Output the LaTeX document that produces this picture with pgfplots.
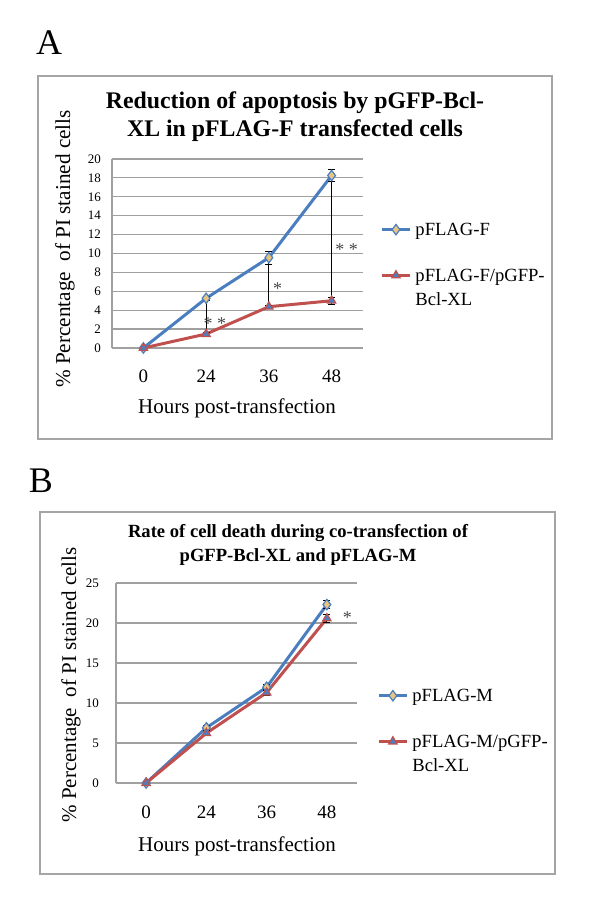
\documentclass[border=0pt]{standalone}
\usepackage{fontspec}
\setmainfont{Liberation Serif}
\usepackage{pgfplots}
\pgfplotsset{compat=1.18}
\definecolor{xblue}{RGB}{74,126,190}
\definecolor{xred}{RGB}{192,80,77}
\definecolor{xtan}{RGB}{232,196,130}
\definecolor{xgrid}{RGB}{160,160,160}
\definecolor{xframe}{RGB}{165,165,165}
\definecolor{xstar}{RGB}{70,70,70}
\pgfplotsset{
  myaxis/.style={
    scale only axis,
    xmin=-0.5, xmax=3.5, ymin=0,
    xtick={0,1,2,3}, xticklabels={0,24,36,48},
    axis lines*=left,
    axis line style={xgrid, line width=0.6pt},
    ymajorgrids, grid style={xgrid, line width=0.6pt},
    major tick length=0pt,
    tick style={draw=none},
    /pgf/number format/assume math mode=true,
    yticklabel style={font=\fontsize{6.5}{7}\selectfont, xshift=-2pt},
    xticklabel style={font=\fontsize{9.5}{10}\selectfont, yshift=-7.5pt},
    clip=false,
    legend style={draw=none, fill=none, font=\fontsize{9.3}{12}\selectfont,
      cells={anchor=base west}, row sep=9pt, inner sep=0pt},
  },
  blueser/.style={xblue, line width=1.5pt, mark=diamond*, mark size=2.6pt,
    mark options={fill=xtan, draw=xblue, line width=0.6pt}},
  redser/.style={xred, line width=1.5pt, mark=triangle*, mark size=2.4pt,
    mark options={fill=xblue, draw=xred, line width=0.6pt}},
  ebar/.style={error bars/.cd, y dir=both, y explicit,
    error bar style={black, line width=0.5pt},
    error mark options={rotate=90, black, mark size=1.8pt, line width=0.5pt}},
}
\begin{document}
\begin{tikzpicture}
\path[use as bounding box] (0pt,0pt) rectangle (300pt,455.5pt);
% ---------- Panel A ----------
\node[font=\fontsize{18}{20}\selectfont] at (24.5pt,434pt) {A};
\draw[xframe, line width=0.8pt] (19pt,417.5pt) rectangle (276pt,236pt);
\node[font=\bfseries\fontsize{11.9}{14}\selectfont, align=center] at (147.5pt,397pt)
  {Reduction of apoptosis by pGFP-Bcl-\\XL in pFLAG-F transfected cells};
\node[font=\fontsize{10.5}{12}\selectfont] at (118.5pt,251.5pt) {Hours post-transfection};
\node[rotate=90, font=\fontsize{10.6}{12}\selectfont] at (32.5pt,331pt) {\% Percentage \ of PI stained cells};
\begin{axis}[myaxis, at={(56pt,281.5pt)}, anchor=south west,
  width=125.5pt, height=94.5pt, ymax=20, ytick={0,2,...,20},
  legend style={at={(1.068,0.683)}, anchor=north west},
  legend image code/.code={\draw[mark repeat=2,mark phase=2,#1] plot coordinates {(0pt,3pt) (7pt,3pt) (14pt,3pt)};}]
\addplot[black, line width=0.5pt, forget plot] coordinates {(1,1.48) (1,5.26)};
\addplot[black, line width=0.5pt, forget plot] coordinates {(2,4.37) (2,9.56)};
\addplot[black, line width=0.5pt, forget plot] coordinates {(3,5.0) (3,18.25)};
\addplot[blueser, ebar] coordinates {(0,0) +- (0,0.1) (1,5.26) +- (0,0.2) (2,9.56) +- (0,0.7) (3,18.25) +- (0,0.6)};
\addlegendentry{pFLAG-F}
\addplot[redser, ebar] coordinates {(0,0) +- (0,0.05) (1,1.48) +- (0,0.15) (2,4.37) +- (0,0.15) (3,5.0) +- (0,0.35)};
\addlegendentry{\begin{tabular}[t]{@{}l@{}}pFLAG-F/pGFP-\\Bcl-XL\end{tabular}}
\node[xstar, font=\fontsize{9}{10}\selectfont, yshift=-2pt] at (axis cs:1.14,2.96) {* *};
\node[xstar, font=\fontsize{9}{10}\selectfont, yshift=-2pt] at (axis cs:2.14,6.7) {*};
\node[xstar, font=\fontsize{9}{10}\selectfont, yshift=-2pt] at (axis cs:3.24,10.8) {* *};
\end{axis}
% ---------- Panel B ----------
\node[font=\fontsize{18}{20}\selectfont] at (20.5pt,215pt) {B};
\draw[xframe, line width=0.8pt] (20pt,199.5pt) rectangle (277.5pt,18.5pt);
\node[font=\bfseries\fontsize{9.3}{12}\selectfont, align=center] at (149pt,183pt)
  {Rate of cell death during co-transfection of\\pGFP-Bcl-XL and pFLAG-M};
\node[font=\fontsize{10.5}{12}\selectfont] at (118.5pt,32.5pt) {Hours post-transfection};
\node[rotate=90, font=\fontsize{10.5}{12}\selectfont] at (35.5pt,113pt) {\% Percentage \ of PI stained cells};
\begin{axis}[myaxis, at={(58pt,64pt)}, anchor=south west,
  width=120.5pt, height=100pt, ymax=25, ytick={0,5,...,25},
  yticklabel style={xshift=-3pt},
  xticklabel style={yshift=-0.5pt},
  legend style={at={(1.083,0.49)}, anchor=north west},
  legend image code/.code={\draw[mark repeat=2,mark phase=2,#1] plot coordinates {(0pt,3pt) (7pt,3pt) (14pt,3pt)};}]
\addplot[blueser, ebar] coordinates {(0,0) +- (0,0.1) (1,6.9) +- (0,0.3) (2,11.97) +- (0,0.4) (3,22.3) +- (0,0.5)};
\addlegendentry{pFLAG-M}
\addplot[redser, ebar] coordinates {(0,0) +- (0,0.05) (1,6.23) +- (0,0.3) (2,11.3) +- (0,0.4) (3,20.57) +- (0,0.5)};
\addlegendentry{\begin{tabular}[t]{@{}l@{}}pFLAG-M/pGFP-\\Bcl-XL\end{tabular}}
\node[xstar, font=\fontsize{9}{10}\selectfont, yshift=-2pt] at (axis cs:3.34,21.2) {*};
\end{axis}
\end{tikzpicture}
\end{document}
